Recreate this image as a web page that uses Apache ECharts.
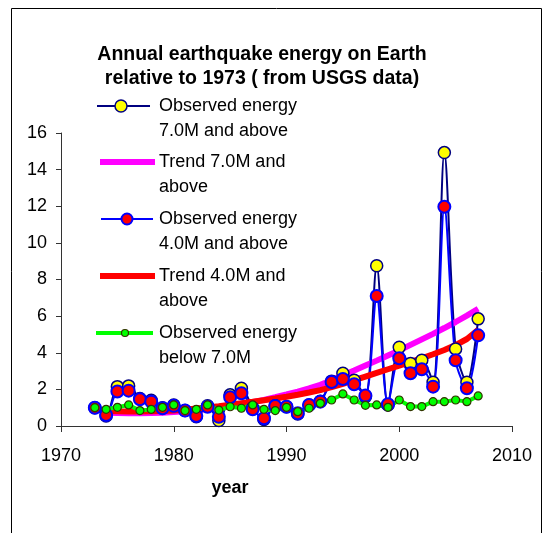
<!DOCTYPE html>
<html lang="en">
<head>
<meta charset="UTF-8">
<title>Annual earthquake energy on Earth</title>
<script src="https://cdn.jsdelivr.net/npm/echarts@6/dist/echarts.min.js"></script>
<style>
  html, body { margin: 0; padding: 0; background: #fff; }
  #chart { width: 554px; height: 533px; }
</style>
</head>
<body>
<div id="chart"></div>
<script>
// data (energy relative to 1973)
const years = [1973, 1974, 1975, 1976, 1977, 1978, 1979, 1980, 1981, 1982,
               1983, 1984, 1985, 1986, 1987, 1988, 1989, 1990, 1991, 1992,
               1993, 1994, 1995, 1996, 1997, 1998, 1999, 2000, 2001, 2002,
               2003, 2004, 2005, 2006, 2007];
const observed7 = [1.0, 0.55, 2.15, 2.19, 1.5, 1.4, 1.0, 1.15, 0.85, 0.5,
                   1.1, 0.3, 1.7, 2.06, 1.0, 0.35, 1.1, 1.05, 0.65, 1.15,
                   1.35, 2.45, 2.88, 2.5, 1.6, 8.75, 1.15, 4.3, 3.41, 3.59,
                   2.39, 14.93, 4.21, 2.39, 5.85];
const trend7 = [null, 0.72, 0.71, 0.7, 0.7, 0.71, 0.73, 0.76, 0.8, 0.86,
                0.93, 1.0, 1.08, 1.18, 1.3, 1.43, 1.57, 1.72, 1.88, 2.05,
                2.25, 2.5, 2.77, 3.03, 3.3, 3.57, 3.85, 4.13, 4.43, 4.73,
                5.03, 5.35, 5.68, 6.03, 6.4];
const observed4 = [1.0, 0.6, 1.88, 1.93, 1.46, 1.33, 0.97, 1.1, 0.84, 0.55,
                   1.05, 0.5, 1.57, 1.79, 0.91, 0.42, 1.09, 1.05, 0.7, 1.15,
                   1.33, 2.4, 2.57, 2.28, 1.66, 7.1, 1.19, 3.7, 2.88, 3.1,
                   2.15, 11.97, 3.59, 2.06, 4.95];
const trend4 = [null, 0.82, 0.8, 0.79, 0.79, 0.8, 0.82, 0.85, 0.89, 0.95,
                1.01, 1.08, 1.16, 1.24, 1.32, 1.41, 1.5, 1.6, 1.71, 1.83,
                1.96, 2.12, 2.3, 2.5, 2.7, 2.9, 3.1, 3.3, 3.5, 3.7,
                3.92, 4.15, 4.42, 4.75, 5.25];
const observedBelow7 = [1.0, 0.91, 1.02, 1.15, 0.84, 0.91, 1.02, 1.15, 0.84, 0.91,
                        1.15, 0.87, 1.05, 0.97, 1.15, 0.91, 0.84, 1.02, 0.78, 0.97,
                        1.24, 1.42, 1.75, 1.42, 1.13, 1.15, 1.02, 1.42, 1.06, 1.06,
                        1.33, 1.33, 1.42, 1.33, 1.64];

const titleLines = ['Annual earthquake energy on Earth', 'relative to 1973 ( from USGS data)'];
const seriesNames = [
  ['Observed energy', '7.0M and above'],
  ['Trend 7.0M and', 'above'],
  ['Observed energy', '4.0M and above'],
  ['Trend 4.0M and', 'above'],
  ['Observed energy', 'below 7.0M']
];

const FONT = 'Arial, "Liberation Sans", sans-serif';
const chart = echarts.init(document.getElementById('chart'));

function pairs(vals) {
  return years.map((y, i) => [y, vals[i]]);
}

// hand-drawn legend (Excel style: icon lines up with the first text line)
const legendStyle = [
  { y: 106, x1: 97, x2: 150, color: '#000080', width: 2, dot: { cx: 121, r: 6, fill: '#FFFF00', stroke: '#000080', lw: 1.5 } },
  { y: 162, x1: 100, x2: 155, color: '#FF00FF', width: 6 },
  { y: 219, x1: 101, x2: 153, color: '#0000FF', width: 2, dot: { cx: 127, r: 5.5, fill: '#FF0000', stroke: '#0000FF', lw: 2 } },
  { y: 276, x1: 100, x2: 155, color: '#FF0000', width: 6 },
  { y: 333, x1: 96, x2: 153, color: '#00FF00', width: 4, dot: { cx: 125, r: 3.5, fill: '#00FF00', stroke: '#333300', lw: 1.2 } }
];
const graphics = [
  { type: 'rect', shape: { x: 11.5, y: 8.5, width: 530, height: 540 }, style: { fill: 'none', stroke: '#000', lineWidth: 1 }, silent: true }
];
titleLines.forEach((t, i) => {
  graphics.push({ type: 'text', x: 262, y: 55 + i * 24, z: 100,
    style: { text: t, font: 'bold 19.5px ' + FONT, fill: '#000', textAlign: 'center', textVerticalAlign: 'middle' } });
});
legendStyle.forEach((it, i) => {
  graphics.push({ type: 'line', z: 100, shape: { x1: it.x1, y1: it.y, x2: it.x2, y2: it.y },
    style: { stroke: it.color, lineWidth: it.width } });
  if (it.dot) {
    graphics.push({ type: 'circle', z: 101, shape: { cx: it.dot.cx, cy: it.y, r: it.dot.r },
      style: { fill: it.dot.fill, stroke: it.dot.stroke, lineWidth: it.dot.lw } });
  }
  seriesNames[i].forEach((t, j) => {
    graphics.push({ type: 'text', z: 100, x: 159, y: it.y + j * 25.5,
      style: { text: t, font: '18px ' + FONT, fill: '#000', textVerticalAlign: 'middle' } });
  });
});
graphics.push({ type: 'text', x: 230, y: 488, z: 100,
  style: { text: 'year', font: 'bold 18px ' + FONT, fill: '#000', textAlign: 'center', textVerticalAlign: 'middle' } });

chart.setOption({
  animation: false,
  backgroundColor: '#fff',
  grid: { left: 61, right: 42, top: 133, bottom: 107 },
  xAxis: {
    type: 'value', min: 1970, max: 2010, interval: 10,
    splitLine: { show: false },
    axisLine: { lineStyle: { color: '#333' } },
    axisTick: { length: 6, lineStyle: { color: '#333' } },
    axisLabel: { fontFamily: FONT, fontSize: 18, color: '#000', margin: 21, formatter: v => String(v) }
  },
  yAxis: {
    type: 'value', min: 0, max: 16, interval: 2,
    splitLine: { show: false },
    axisLine: { show: true, lineStyle: { color: '#333' } },
    axisTick: { show: true, length: 5, lineStyle: { color: '#333' } },
    axisLabel: { fontFamily: FONT, fontSize: 18, color: '#000', margin: 14 }
  },
  graphic: graphics,
  series: [
    {
      name: 'Observed energy 7.0M and above', type: 'line', data: pairs(observed7),
      smooth: 0.3, symbol: 'circle', symbolSize: 12, showAllSymbol: true,
      lineStyle: { color: '#000080', width: 2 },
      itemStyle: { color: '#FFFF00', borderColor: '#000080', borderWidth: 1.5 }
    },
    {
      name: 'Trend 7.0M and above', type: 'line', data: pairs(trend7),
      showSymbol: false, lineStyle: { color: '#FF00FF', width: 6 }
    },
    {
      name: 'Observed energy 4.0M and above', type: 'line', data: pairs(observed4),
      smooth: 0.3, symbol: 'circle', symbolSize: 12, showAllSymbol: true,
      lineStyle: { color: '#0000FF', width: 2 },
      itemStyle: { color: '#FF0000', borderColor: '#0000FF', borderWidth: 2 }
    },
    {
      name: 'Trend 4.0M and above', type: 'line', data: pairs(trend4),
      showSymbol: false, lineStyle: { color: '#FF0000', width: 6 }
    },
    {
      name: 'Observed energy below 7.0M', type: 'line', data: pairs(observedBelow7),
      symbol: 'circle', symbolSize: 8, showAllSymbol: true,
      lineStyle: { color: '#00FF00', width: 4 },
      itemStyle: { color: '#00FF00', borderColor: '#333300', borderWidth: 1.2 }
    }
  ]
});
</script>
</body>
</html>
